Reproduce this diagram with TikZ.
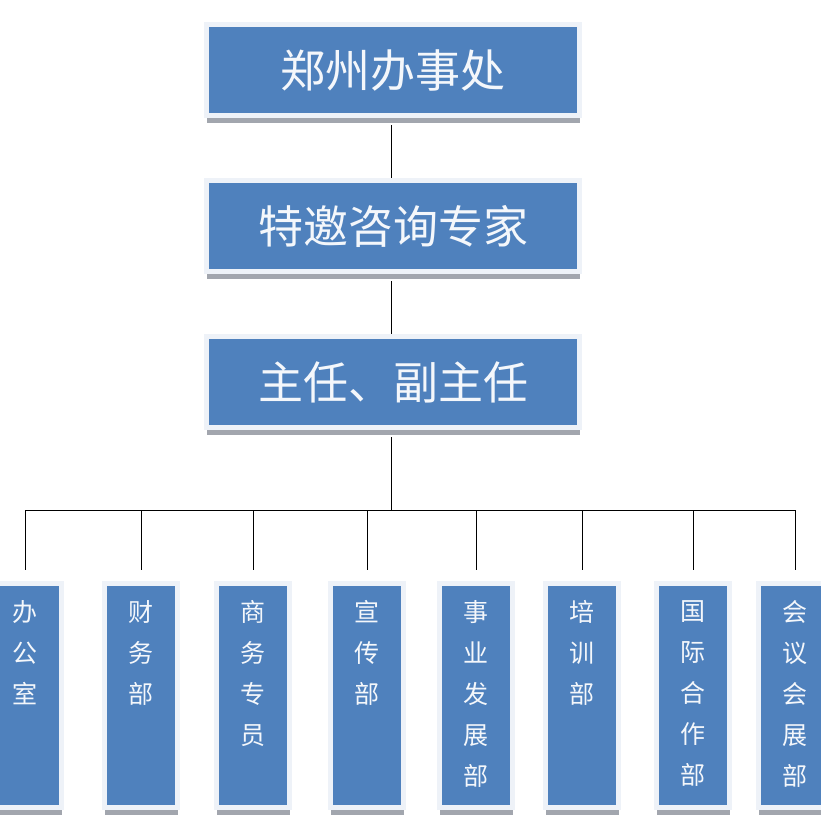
\documentclass[tikz,border=0pt]{standalone}
\usepackage{fontspec}
\setmainfont{Noto Sans CJK SC}
\usetikzlibrary{positioning,shadows}
\definecolor{boxblue}{HTML}{4F81BD}
\definecolor{boxframe}{HTML}{EEF2F8}
\definecolor{boxshadow}{HTML}{A2A6AE}
\definecolor{boxtext}{HTML}{F4F7FB}
\tikzset{
  headbox/.style={rectangle, fill=boxblue, draw=boxframe, line width=5pt, inner sep=0pt,
    minimum width=373pt, minimum height=91pt, text=boxtext, font=\fontsize{45}{50}\selectfont,
    drop shadow={shadow xshift=0pt, shadow yshift=-7pt, fill=boxshadow, opacity=1}},
  deptbox/.style={rectangle, fill=boxblue, draw=boxframe, line width=5pt, inner sep=0pt,
    minimum width=73pt, minimum height=224pt,
    drop shadow={shadow xshift=0pt, shadow yshift=-7pt, fill=boxshadow, opacity=1}},
  depttext/.style={inner sep=0pt, align=center, text=boxtext, font=\fontsize{25}{41}\selectfont},
  link/.style={draw=black, line width=1pt}
}
\begin{document}
\begin{tikzpicture}[x=1pt,y=-1pt]
\useasboundingbox (0,0) rectangle (820,827);
% the three head boxes
\node[headbox] (zz) at (393,70) {郑州办事处};
\node[headbox] (zj) at (393,226) {特邀咨询专家};
\node[headbox] (zr) at (393,382) {主任、副主任};
\coordinate (bus) at (391,510);
\draw[link] (zz.south) ++(-2,-7pt) -- (zj.north -| bus);
\draw[link] (zj.south) ++(-2,-7pt) -- (zr.north -| bus);
\draw[link] (zr.south) ++(-2,-7pt) -- (bus);
% departments: x position / name
\foreach[count=\xi] \x/\t in {25/{办\\公\\室},141/{财\\务\\部},253/{商\\务\\专\\员},367/{宣\\传\\部},
    476/{事\\业\\发\\展\\部},582/{培\\训\\部},693/{国\\际\\合\\作\\部},795/{会\\议\\会\\展\\部}}{
\node[deptbox] (d\xi) at (\x,695.5) {};
\node[depttext, below=19pt of d\xi.north] (t\xi) {\t};
\draw[link] (bus -| d\xi.north) -- ++(0,60) coordinate (e\xi);
}
\draw[link] (bus -| d1.north) -- (bus -| d8.north);
\end{tikzpicture}
\end{document}
